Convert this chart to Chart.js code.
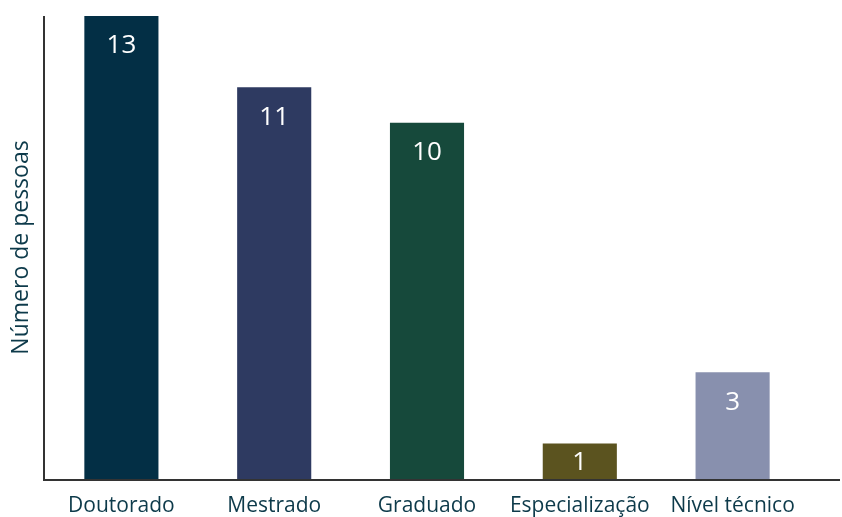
<!DOCTYPE html>
<html>
<head>
<meta charset="utf-8">
<script src="https://cdn.jsdelivr.net/npm/chart.js@4"></script>
<style>
  html, body { margin: 0; padding: 0; background: #fff; }
  #wrap { width: 842px; height: 517px; }
</style>
</head>
<body>
<div id="wrap"><canvas id="myChart"></canvas></div>
<script>
const categories = ["Doutorado", "Mestrado", "Graduado", "Especialização", "Nível técnico"];
const pessoas = [13, 11, 10, 1, 3];
const barColors = ["#032f45", "#2e3a61", "#16493b", "#5b531f", "#8890ae"];

const FONT = "'Open Sans', 'Noto Sans', sans-serif";
const TEXT = "#0d3a4a";
const AXIS = "#333333";

// axis lines drawn by hand so the x axis runs to the right edge
const axisLines = {
  id: "axisLines",
  afterDraw(chart) {
    const { ctx, chartArea } = chart;
    ctx.save();
    ctx.strokeStyle = AXIS;
    ctx.lineWidth = 2;
    ctx.beginPath();
    ctx.moveTo(chartArea.left - 1, chartArea.top);
    ctx.lineTo(chartArea.left - 1, chartArea.bottom + 1);
    ctx.lineTo(chart.width - 2, chartArea.bottom + 1);
    ctx.stroke();
    ctx.restore();
  },
};

// value printed inside the top of each bar (centred when the bar is short)
const valueLabels = {
  id: "valueLabels",
  afterDatasetsDraw(chart) {
    const { ctx } = chart;
    const meta = chart.getDatasetMeta(0);
    ctx.save();
    ctx.fillStyle = "#ffffff";
    ctx.font = "26px " + FONT;
    ctx.textAlign = "center";
    ctx.textBaseline = "middle";
    meta.data.forEach((bar, i) => {
      const y = Math.min(bar.y + 30, (bar.y + bar.base) / 2 + 1);
      ctx.fillText(String(pessoas[i]), bar.x, y);
    });
    ctx.restore();
  },
};

new Chart(document.getElementById("myChart"), {
  type: "bar",
  data: {
    labels: categories,
    datasets: [
      {
        data: pessoas,
        backgroundColor: barColors,
        borderWidth: 0,
        barPercentage: 0.485,
        categoryPercentage: 1,
      },
    ],
  },
  options: {
    responsive: true,
    maintainAspectRatio: false,
    animation: false,
    layout: { padding: { top: 16, right: 33, left: 2, bottom: 0 } },
    plugins: {
      legend: { display: false },
      tooltip: { enabled: false },
    },
    scales: {
      x: {
        grid: { display: false, drawTicks: false },
        border: { display: false },
        ticks: {
          color: TEXT,
          font: { family: FONT, size: 21 },
          padding: 14,
          maxRotation: 0,
          autoSkip: false,
        },
        afterFit(scale) { scale.height = 38; },
      },
      y: {
        min: 0,
        max: 13,
        grid: { display: false, drawTicks: false },
        border: { display: false },
        ticks: { display: false },
        title: {
          display: true,
          text: "Número de pessoas",
          color: TEXT,
          font: { family: FONT, size: 23 },
          padding: { top: 6, bottom: 0 },
        },
        afterFit(scale) { scale.width = 43; },
      },
    },
  },
  plugins: [axisLines, valueLabels],
});
</script>
</body>
</html>
